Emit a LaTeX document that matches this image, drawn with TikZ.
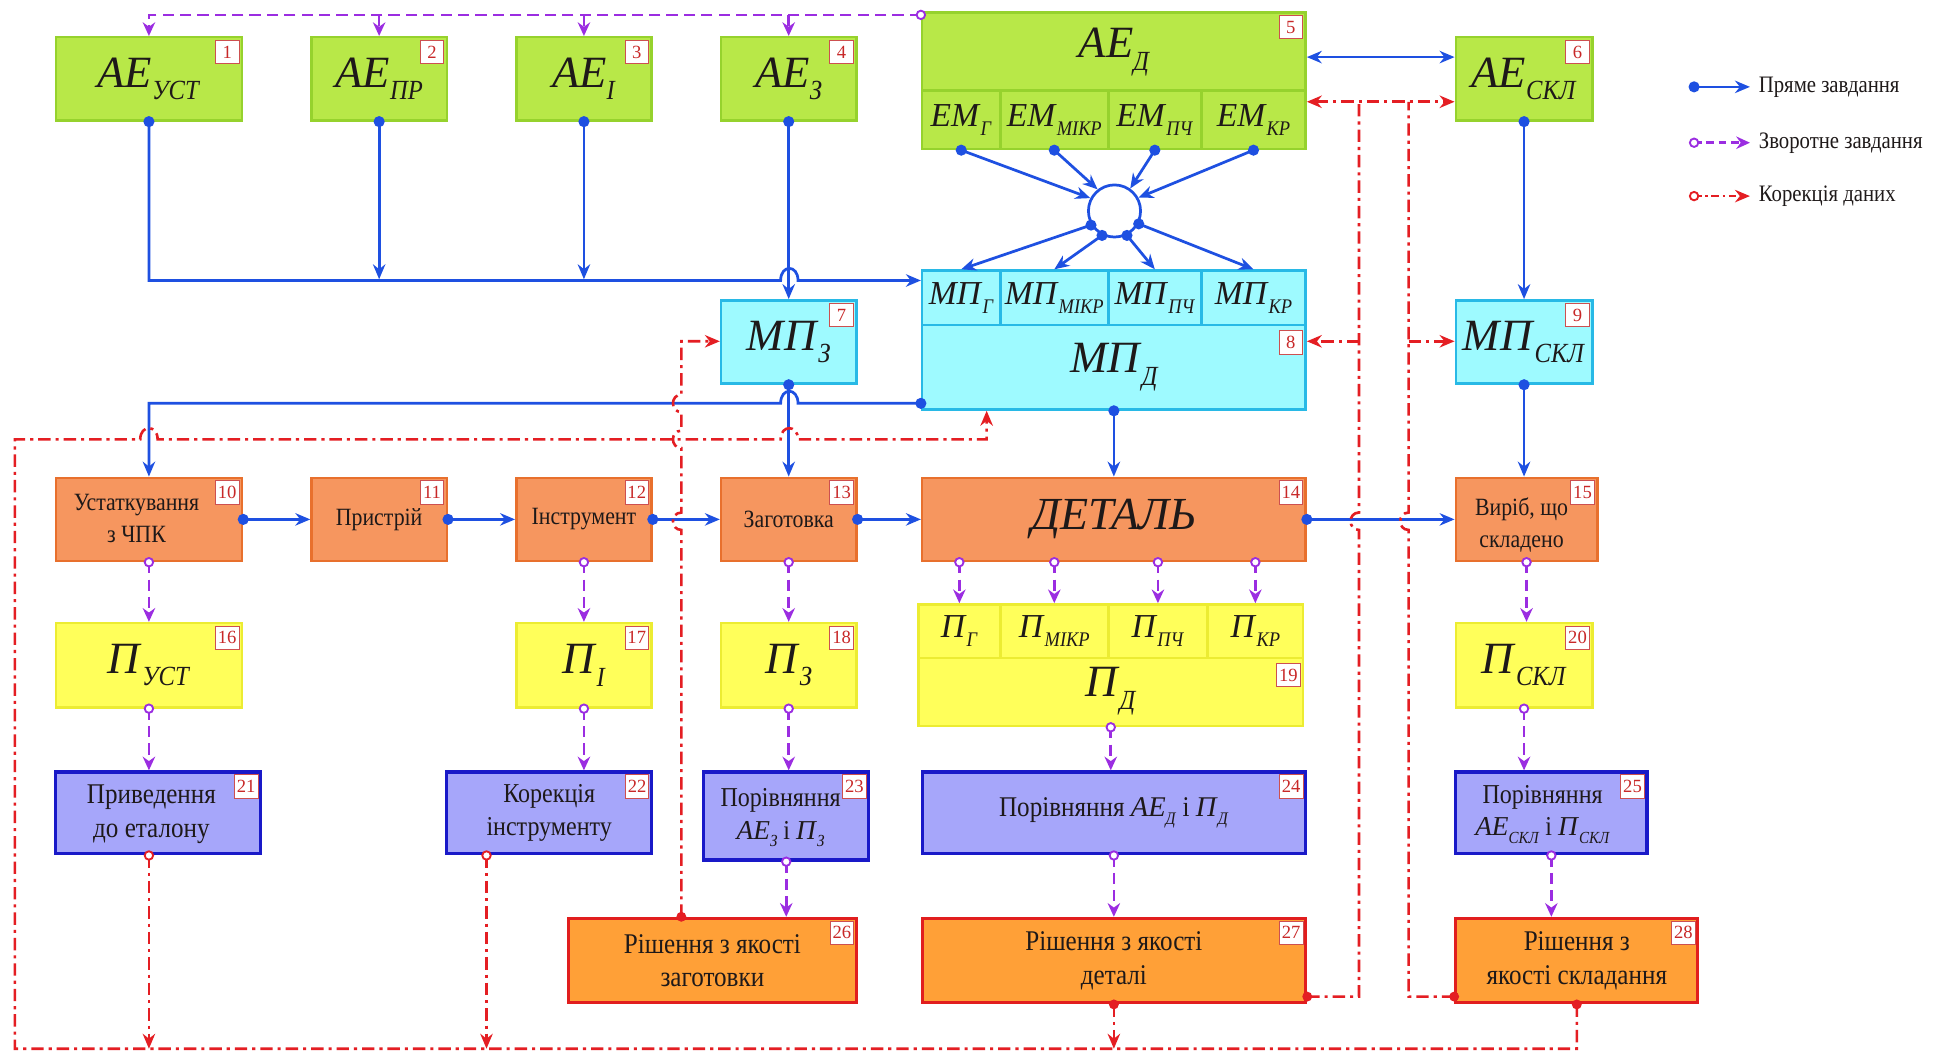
\documentclass[tikz,border=0pt]{standalone}
\usepackage{fontspec}
\usepackage{graphicx}
\setmainfont{Liberation Serif}
\newfontfamily\cnd[FakeStretch=0.88]{Liberation Serif}
\usetikzlibrary{arrows.meta}

\definecolor{grnF}{RGB}{184,232,72}
\definecolor{grnD}{RGB}{150,210,45}
\definecolor{cyaF}{RGB}{158,250,255}
\definecolor{cyaD}{RGB}{40,185,230}
\definecolor{orgF}{RGB}{246,150,95}
\definecolor{orgD}{RGB}{232,112,45}
\definecolor{yelF}{RGB}{255,255,90}
\definecolor{yelD}{RGB}{236,236,50}
\definecolor{vioF}{RGB}{166,166,250}
\definecolor{vioD}{RGB}{25,25,200}
\definecolor{or2F}{RGB}{255,160,55}
\definecolor{or2D}{RGB}{225,30,30}
\definecolor{tagD}{RGB}{205,80,80}
\definecolor{tagT}{RGB}{200,40,40}
\definecolor{blu}{RGB}{30,80,225}
\definecolor{pur}{RGB}{155,45,225}
\definecolor{red1}{RGB}{228,30,35}
\definecolor{txt}{RGB}{30,25,25}

% symbol with a small italic index
\newcommand\ml[2]{{\rmfamily\textit{#1}\raisebox{-0.28em}{\scalebox{0.55}[0.62]{\textit{#2}}}}}
\newcommand\fBig{\fontsize{36}{40}\selectfont}
\newcommand\fCell{\fontsize{27}{30}\selectfont}
\newcommand\fRow{\cnd\fontsize{20}{26}\selectfont}
\newcommand\fLow{\cnd\fontsize{23}{27}\selectfont}
\newcommand\fMid{\cnd\fontsize{22}{26}\selectfont}
\newcommand\fLeg{\cnd\fontsize{19}{20}\selectfont}
% box from corner (x1,y1) to (x2,y2)
\newcommand\mkbox[7]{\node[#2, minimum width={#5-#3}, minimum height={#6-#4}] (#1) at ({(#3+#5)/2},{(#4+#6)/2}) {#7};}
% number tag in the upper right corner of a box
\newcommand\tg[3][0]{\node[tagst, anchor=north east] (t#3) at ([xshift=-3pt,yshift={-3pt-#1pt}]#2.north east) {#3};}
\newcommand\dotB[1]{\fill[blu] (#1) circle (4.5pt);}
\newcommand\dotP[1]{\draw[pur, fill=white, line width=1.5pt] (#1) circle (3.4pt);}
\newcommand\dotR[1]{\draw[red1, fill=white, line width=1.5pt] (#1) circle (3.4pt);}
\newcommand\dotRf[1]{\fill[red1] (#1) circle (4pt);}

\begin{document}
\begin{tikzpicture}[x=1pt,y=-1pt,
  box/.style={rectangle, line width=2pt, inner sep=0pt, align=center, text=txt},
  gb/.style={box, fill=grnF, draw=grnD},
  cb/.style={box, fill=cyaF, draw=cyaD},
  ob/.style={box, fill=orgF, draw=orgD},
  yb/.style={box, fill=yelF, draw=yelD},
  vb/.style={box, fill=vioF, draw=vioD, line width=2.6pt},
  rb/.style={box, fill=or2F, draw=or2D, line width=2.6pt},
  lab/.style={text=txt, inner sep=0pt, align=center},
  tagst/.style={rectangle, fill=white, draw=tagD, line width=0.8pt, text=tagT,
    font=\fontsize{15}{15}\selectfont, inner sep=1.5pt, minimum width=19pt, minimum height=19pt},
  fwd/.style={draw=blu, line width=2.2pt, -{Stealth[length=12pt,width=10pt]}},
  bwd/.style={draw=pur, line width=2.1pt, dash pattern=on 9pt off 5pt, -{Stealth[length=11pt,width=10pt]}},
  cor/.style={draw=red1, line width=2.1pt, dash pattern=on 10pt off 4pt on 2.5pt off 4pt, -{Stealth[length=12pt,width=10pt]}},
]
\useasboundingbox (0,0) rectangle (1568,848);
\fill[white] (0,0) rectangle (1568,848);

% ---------- row 1: reference standards ----------
\mkbox{n1}{gb}{45}{30}{195}{97}{\fBig\ml{АЕ}{УСТ}}
\mkbox{n2}{gb}{251}{30}{360}{97}{\fBig\ml{АЕ}{ПР}}
\mkbox{n3}{gb}{416}{30}{525}{97}{\fBig\ml{АЕ}{І}}
\mkbox{n4}{gb}{581}{30}{690}{97}{\fBig\ml{АЕ}{З}}
\mkbox{n5}{gb}{743}{10}{1052}{120}{}
\mkbox{em1}{gb}{743}{73}{806}{120}{\fCell\ml{ЕМ}{Г}}
\mkbox{em2}{gb}{806}{73}{893}{120}{\fCell\ml{ЕМ}{МІКР}}
\mkbox{em3}{gb}{893}{73}{968}{120}{\fCell\ml{ЕМ}{ПЧ}}
\mkbox{em4}{gb}{968}{73}{1052}{120}{\fCell\ml{ЕМ}{КР}}
\node[lab] (n5t) at (898,42) {\fBig\ml{АЕ}{Д}};
\mkbox{n6}{gb}{1173}{30}{1283}{97}{\fBig\ml{АЕ}{СКЛ}}

% ---------- row 2: models ----------
\mkbox{n7}{cb}{581}{242}{690}{309}{\fBig\ml{МП}{З}}
\mkbox{n8}{cb}{743}{218}{1052}{330}{}
\mkbox{mp1}{cb}{743}{218}{806}{262}{\fCell\ml{МП}{Г}}
\mkbox{mp2}{cb}{806}{218}{893}{262}{\fCell\ml{МП}{МІКР}}
\mkbox{mp3}{cb}{893}{218}{968}{262}{\fCell\ml{МП}{ПЧ}}
\mkbox{mp4}{cb}{968}{218}{1052}{262}{\fCell\ml{МП}{КР}}
\node[lab] (n8t) at (898,296) {\fBig\ml{МП}{Д}};
\mkbox{n9}{cb}{1173}{242}{1283}{309}{\fBig\ml{МП}{СКЛ}}

% ---------- row 3: objects ----------
\mkbox{n10}{ob}{45}{385}{195}{452}{}
\node[lab, font=\fRow] (n10t) at (110,418) {Устаткування\\з ЧПК};
\mkbox{n11}{ob, font=\fRow}{251}{385}{360}{452}{Пристрій}
\mkbox{n12}{ob, font=\fRow}{416}{385}{525}{452}{Інструмент}
\mkbox{n13}{ob, font=\fRow}{581}{385}{690}{452}{Заготовка}
\mkbox{n14}{ob}{743}{385}{1052}{452}{\fontsize{37}{40}\selectfont\itshape ДЕТАЛЬ}
\mkbox{n15}{ob}{1173}{385}{1287}{452}{}
\node[lab, font=\fRow] (n15t) at (1226,423) {Виріб, що\\складено};

% ---------- row 4: measured parameters ----------
\mkbox{n16}{yb}{45}{502}{195}{570}{\fBig\ml{П}{УСТ}}
\mkbox{n17}{yb}{416}{502}{525}{570}{\fBig\ml{П}{І}}
\mkbox{n18}{yb}{581}{502}{690}{570}{\fBig\ml{П}{З}}
\mkbox{n19}{yb}{740}{487}{1050}{585}{}
\mkbox{p1}{yb}{740}{487}{806}{530}{\fCell\ml{П}{Г}}
\mkbox{p2}{yb}{806}{487}{893}{530}{\fCell\ml{П}{МІКР}}
\mkbox{p3}{yb}{893}{487}{973}{530}{\fCell\ml{П}{ПЧ}}
\mkbox{p4}{yb}{973}{487}{1050}{530}{\fCell\ml{П}{КР}}
\node[lab] (n19t) at (895,557) {\fBig\ml{П}{Д}};
\mkbox{n20}{yb}{1173}{502}{1283}{570}{\fBig\ml{П}{СКЛ}}

% ---------- row 5: comparison ----------
\mkbox{n21}{vb}{45}{622}{210}{688}{}
\node[lab, font=\fLow] (n21t) at (122,656) {Приведення\\до еталону};
\mkbox{n22}{vb, font=\fMid}{360}{622}{525}{688}{Корекція\\інструменту}
\mkbox{n23}{vb}{567}{622}{700}{693}{}
\node[lab, font=\fMid] (n23t) at (629,659) {Порівняння\\\ml{АЕ}{З} і \ml{П}{З}};
\mkbox{n24}{vb, font=\fLow}{743}{622}{1052}{688}{Порівняння \ml{АЕ}{Д} і \ml{П}{Д}}
\mkbox{n25}{vb}{1173}{622}{1327}{688}{}
\node[lab, font=\fMid] (n25t) at (1243,656) {Порівняння\\\ml{АЕ}{СКЛ} і \ml{П}{СКЛ}};

% ---------- row 6: quality decisions ----------
\mkbox{n26}{rb, font=\fLow}{458}{740}{690}{808}{Рішення з якості\\заготовки}
\mkbox{n27}{rb, font=\fLow}{743}{740}{1052}{808}{Рішення з якості\\деталі}
\mkbox{n28}{rb, font=\fLow}{1173}{740}{1368}{808}{Рішення з\\якості складання}

% ---------- number tags ----------
\tg{n1}{1} \tg{n2}{2} \tg{n3}{3} \tg{n4}{4} \tg{n5}{5} \tg{n6}{6}
\tg{n7}{7} \tg[46]{n8}{8} \tg{n9}{9}
\tg{n10}{10} \tg{n11}{11} \tg{n12}{12} \tg{n13}{13} \tg{n14}{14} \tg{n15}{15}
\tg{n16}{16} \tg{n17}{17} \tg{n18}{18} \tg[45]{n19}{19} \tg{n20}{20}
\tg{n21}{21} \tg{n22}{22} \tg{n23}{23} \tg{n24}{24} \tg{n25}{25}
\tg{n26}{26} \tg{n27}{27} \tg{n28}{28}

% ---------- direct task (blue) ----------
\draw[fwd] (n1.south) -- (n1.south |- 0,226) -- (629,226) .. controls (629,213) and (643,213) .. (643,226) -- (n8.west |- 0,226);
\draw[fwd] (n2.south) -- (n2.south |- 0,225);
\draw[fwd] (n3.south) -- (n3.south |- 0,225);
\draw[fwd] (n4.south) -- (n7.north);
\draw[fwd] (n6.south) -- (n9.north);
\draw[fwd, {Stealth[length=12pt,width=10pt]}-{Stealth[length=12pt,width=10pt]}] (n5.east |- 0,46) -- (n6.west |- 0,46);
\foreach \n in {n1,n2,n3,n4,n6} {\dotB{\n.south}}

\node[circle, draw=blu, line width=2.2pt, minimum size=42pt, inner sep=0pt] (hub) at (898,170) {};
\draw[fwd] (em1.south) -- (hub.152);
\draw[fwd] (em2.south) -- (hub.128);
\draw[fwd] (em3.south) -- (hub.55);
\draw[fwd] (em4.south) -- (hub.29);
\draw[fwd] (hub.211) -- (mp1.north);
\draw[fwd] (hub.243) -- (mp2.north);
\draw[fwd] (hub.297) -- (mp3.north);
\draw[fwd] (hub.332) -- (mp4.north);
\foreach \n in {em1,em2,em3,em4} {\dotB{\n.south}}
\foreach \a in {211,243,297,332} {\dotB{hub.\a}}

\draw[fwd] (n8.west |- 0,325) -- (643,325) .. controls (643,312) and (629,312) .. (629,325) -- (n10.north |- 0,325) -- (n10.north);
\draw[fwd] (n7.south) -- (n13.north);
\draw[fwd] (n8.south) -- (n14.north);
\draw[fwd] (n9.south) -- (n9.south |- n15.north);
\dotB{n8.west |- 0,325} \dotB{n7.south} \dotB{n8.south} \dotB{n9.south}

\draw[fwd] (n10.east) -- (n11.west);
\draw[fwd] (n11.east) -- (n12.west);
\draw[fwd] (n12.east) -- (n13.west);
\draw[fwd] (n13.east) -- (n14.west);
\draw[fwd] (n14.east) -- (n15.west);
\foreach \n in {n10,n11,n12,n13,n14} {\dotB{\n.east}}

% ---------- inverse task (violet) ----------
\draw[bwd] (n5.north west |- 0,12) -- (n1.north |- 0,12) -- (n1.north);
\foreach \n in {n2,n3,n4} {\draw[bwd] (\n.north |- 0,12) -- (\n.north);}
\dotP{n5.north west |- 0,12}
\draw[bwd] (n10.south) -- (n16.north);
\draw[bwd] (n12.south) -- (n17.north);
\draw[bwd] (n13.south) -- (n18.north);
\foreach \p in {p1,p2,p3,p4} {\draw[bwd] (\p.north |- n14.south) -- (\p.north); \dotP{\p.north |- n14.south}}
\draw[bwd] (n15.south) -- (n15.south |- n20.north);
\draw[bwd] (n16.south) -- (n16.south |- n21.north);
\draw[bwd] (n17.south) -- (n17.south |- n22.north);
\draw[bwd] (n18.south) -- (n18.south |- n23.north);
\draw[bwd] (n19.south) -- (n19.south |- n24.north);
\draw[bwd] (n20.south) -- (n20.south |- n25.north);
\draw[bwd] (n23.south) -- (n23.south |- n26.north);
\draw[bwd] (n24.south) -- (n27.north);
\draw[bwd] (n25.south) -- (n25.south |- n28.north);
\foreach \n in {n10,n12,n13,n15,n16,n17,n18,n19,n20,n23,n24,n25} {\dotP{\n.south}}

% ---------- data correction (red) ----------
\coordinate (bl) at (0,845);
\draw[cor] (n16.south |- n21.south) -- (n16.south |- bl);
\draw[cor] (n22.south -| 392,0) -- (bl -| 392,0);
\draw[cor] (n27.south) -- (n27.south |- bl);
\draw[cor] (n28.south) -- (n28.south |- bl) -- (12,845) -- (12,354)
  -- (113,354) .. controls (113,342) and (127,342) .. (127,354)
  -- (629,354) .. controls (629,342) and (643,342) .. (643,354)
  -- (795,354) -- (n8.south -| 795,0);
\draw[cor] (n26.north -| 549,0)
  -- (549,427) .. controls (540,427) and (540,413) .. (549,413)
  -- (549,361) .. controls (540,361) and (540,347) .. (549,347)
  -- (549,332) .. controls (540,332) and (540,318) .. (549,318)
  -- (549,275) -- (n7.west |- 0,275);
\draw[cor, {Stealth[length=12pt,width=10pt]}-{Stealth[length=12pt,width=10pt]}] (n5.east |- 0,82) -- (n6.west |- 0,82);
\draw[cor, -] (n27.east |- 0,803) -- (1095,803)
  -- (1095,427) .. controls (1086,427) and (1086,413) .. (1095,413) -- (1095,82);
\draw[cor] (1095,275) -- (n8.east |- 0,275);
\draw[cor, -] (n28.west |- 0,803) -- (1135,803)
  -- (1135,427) .. controls (1126,427) and (1126,413) .. (1135,413) -- (1135,82);
\draw[cor] (1135,275) -- (n9.west |- 0,275);
\dotR{n16.south |- n21.south} \dotR{n22.south -| 392,0}
\dotRf{n26.north -| 549,0} \dotRf{n27.south} \dotRf{n28.south}
\dotRf{n27.east |- 0,803} \dotRf{n28.west |- 0,803}

% ---------- legend ----------
\coordinate (la1) at (1365,70);  \coordinate (lb1) at (1410,70);
\coordinate (la2) at (1365,115); \coordinate (lb2) at (1410,115);
\coordinate (la3) at (1365,158); \coordinate (lb3) at (1410,158);
\draw[fwd] (la1) -- (lb1); \dotB{la1}
\draw[bwd, dash pattern=on 6pt off 4pt] (la2) -- (lb2); \dotP{la2}
\draw[cor, dash pattern=on 6pt off 3pt on 2pt off 3pt] (la3) -- (lb3); \dotR{la3}
\node[lab, anchor=west] (lt1) at (1417,70) {\fLeg Пряме завдання};
\node[lab, anchor=west] (lt2) at (1417,115) {\fLeg Зворотне завдання};
\node[lab, anchor=west] (lt3) at (1417,158) {\fLeg Корекція даних};
\end{tikzpicture}
\end{document}
